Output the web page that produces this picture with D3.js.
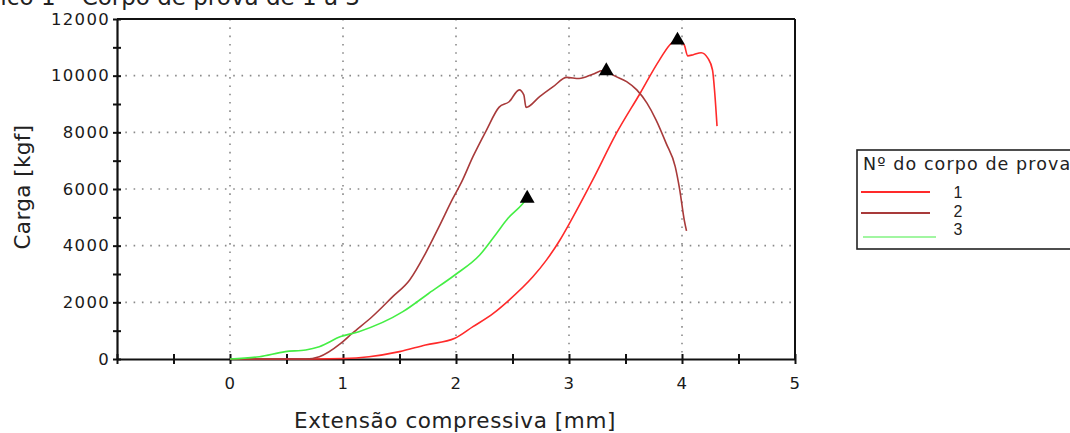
<!DOCTYPE html>
<html>
<head>
<meta charset="utf-8">
<script src="https://cdn.jsdelivr.net/npm/d3@7/dist/d3.min.js"></script>
<style>
body { margin: 0; background: #fff; }
svg { display: block; }
</style>
</head>
<body>
<svg id="chart" width="1070" height="433"></svg>
<script>
// corpo de prova 1
const s1x = [0, 0.5, 1.0, 1.23, 1.5, 1.73, 1.99, 2.15, 2.33, 2.47, 2.68, 2.80, 2.92, 3.02, 3.21, 3.42, 3.63, 3.80, 3.91, 3.96, 4.02, 4.05, 4.10, 4.17, 4.23, 4.27, 4.29, 4.31];
const s1y = [0, 0, 20, 80, 260, 495, 730, 1140, 1610, 2080, 2900, 3490, 4200, 4900, 6320, 7970, 9380, 10550, 11160, 11250, 11080, 10700, 10740, 10810, 10610, 10200, 9380, 8220];
// corpo de prova 2
const s2x = [0, 0.67, 0.79, 0.98, 1.08, 1.26, 1.44, 1.59, 1.73, 1.85, 1.97, 2.05, 2.15, 2.27, 2.38, 2.47, 2.56, 2.60, 2.62, 2.74, 2.86, 2.98, 3.09, 3.21, 3.30, 3.33, 3.39, 3.51, 3.60, 3.69, 3.77, 3.86, 3.94, 3.98, 4.02, 4.04];
const s2y = [0, 0, 80, 550, 900, 1500, 2200, 2790, 3730, 4670, 5650, 6250, 7140, 8080, 8880, 9080, 9500, 9320, 8880, 9260, 9610, 9940, 9900, 10050, 10180, 10170, 10020, 9790, 9500, 9030, 8440, 7610, 6790, 5970, 4900, 4520];
// corpo de prova 3
const s3x = [0, 0.26, 0.49, 0.67, 0.79, 0.98, 1.14, 1.53, 1.76, 1.99, 2.21, 2.36, 2.46, 2.58, 2.61];
const s3y = [0, 80, 260, 320, 435, 790, 965, 1670, 2320, 2965, 3670, 4440, 4965, 5435, 5580];

const seriesNames = ['1', '2', '3'];
const seriesColors = ['#ff2a2a', '#a83a3a', '#44ee44'];
const peakX = [3.96, 3.33, 2.63];
const peakY = [11250, 10170, 5670];

const xTicksMajor = [0, 1, 2, 3, 4, 5];
const yTicksMajor = [0, 2000, 4000, 6000, 8000, 10000, 12000];

const svg = d3.select('#chart');
const plotLeft = 117, plotRight = 795, plotTop = 19, plotBottom = 359;

const x = d3.scaleLinear().domain([-1, 5]).range([plotLeft, plotRight]);
const y = d3.scaleLinear().domain([0, 12000]).range([plotBottom, plotTop]);

// titulo (cortado no topo, como no original)
svg.append('text')
    .attr('x', -49)
    .attr('y', 5)
    .attr('font-family', 'DejaVu Sans')
    .attr('font-size', 23)
    .attr('fill', '#222')
    .text('Gráfico 1 – Corpo de prova de 1 a 3');

// grade pontilhada
svg.selectAll('line.hgrid')
    .data([2000, 4000, 6000, 8000, 10000])
    .enter()
    .append('line')
    .attr('class', 'hgrid')
    .attr('x1', plotLeft).attr('x2', plotRight)
    .attr('y1', d => y(d)).attr('y2', d => y(d))
    .attr('stroke', '#8a8a8a')
    .attr('stroke-width', 1.6)
    .attr('stroke-dasharray', '1.6,6.7');

svg.selectAll('line.vgrid')
    .data([0, 1, 2, 3, 4])
    .enter()
    .append('line')
    .attr('class', 'vgrid')
    .attr('x1', d => x(d)).attr('x2', d => x(d))
    .attr('y1', plotTop).attr('y2', plotBottom)
    .attr('stroke', '#8a8a8a')
    .attr('stroke-width', 1.6)
    .attr('stroke-dasharray', '1.6,6.7');

// moldura: topo e direita
svg.append('line')
    .attr('x1', plotLeft).attr('x2', plotRight).attr('y1', plotTop).attr('y2', plotTop)
    .attr('stroke', '#111').attr('stroke-width', 2);
svg.append('line')
    .attr('x1', plotRight).attr('x2', plotRight).attr('y1', plotTop).attr('y2', plotBottom)
    .attr('stroke', '#111').attr('stroke-width', 2);

// eixos
const yAxis = d3.axisLeft(y)
    .tickValues(d3.range(0, 12001, 1000))
    .tickSizeInner(4).tickSizeOuter(0)
    .tickFormat(d => yTicksMajor.includes(d) ? d : '');
const gy = svg.append('g').attr('transform', `translate(${plotLeft},0)`).call(yAxis);

const xAxis = d3.axisBottom(x)
    .tickValues(d3.range(-1, 5.01, 0.5))
    .tickSizeInner(5).tickSizeOuter(0)
    .tickFormat(d => xTicksMajor.includes(d) ? d : '');
const gx = svg.append('g').attr('transform', `translate(0,${plotBottom})`).call(xAxis);

[gx, gy].forEach(g => {
    g.select('.domain').attr('stroke', '#111').attr('stroke-width', 2.2);
    g.selectAll('.tick line').attr('stroke', '#111').attr('stroke-width', 2);
    g.selectAll('.tick text')
        .attr('font-family', 'DejaVu Sans')
        .attr('font-size', 16.5)
        .attr('letter-spacing', 1.3)
        .attr('fill', '#1a1a1a');
});
// marcas cruzando o eixo
gy.selectAll('.tick line').attr('x1', 4);
gy.selectAll('.tick text').attr('x', -7);
gx.selectAll('.tick line').attr('y1', -5);
gx.selectAll('.tick text').attr('y', 18);

// titulos dos eixos
svg.append('text')
    .attr('x', 455).attr('y', 428)
    .attr('text-anchor', 'middle')
    .attr('font-family', 'DejaVu Sans')
    .attr('font-size', 21.5)
    .attr('letter-spacing', 0.6)
    .attr('fill', '#222')
    .text('Extensão compressiva [mm]');

svg.append('text')
    .attr('transform', 'translate(30,187) rotate(-90)')
    .attr('text-anchor', 'middle')
    .attr('font-family', 'DejaVu Sans')
    .attr('font-size', 21.5)
    .attr('letter-spacing', 0.4)
    .attr('fill', '#222')
    .text('Carga [kgf]');

// curvas
const allSeries = [
    s1x.map((v, i) => [v, s1y[i]]),
    s2x.map((v, i) => [v, s2y[i]]),
    s3x.map((v, i) => [v, s3y[i]])
];
const line = d3.line()
    .x(d => x(d[0]))
    .y(d => y(d[1]))
    .curve(d3.curveMonotoneX);

svg.selectAll('path.serie')
    .data(allSeries)
    .enter()
    .append('path')
    .attr('class', 'serie')
    .attr('d', line)
    .attr('fill', 'none')
    .attr('stroke', (d, i) => seriesColors[i])
    .attr('stroke-width', 1.6);

// picos
svg.selectAll('path.peak')
    .data(peakX.map((v, i) => [v, peakY[i]]))
    .enter()
    .append('path')
    .attr('class', 'peak')
    .attr('d', d3.symbol().type(d3.symbolTriangle).size(95))
    .attr('transform', d => `translate(${x(d[0])},${y(d[1])})`)
    .attr('fill', '#000');

// legenda
const lg = svg.append('g');
lg.append('rect')
    .attr('x', 857).attr('y', 150)
    .attr('width', 240).attr('height', 99)
    .attr('fill', '#fff')
    .attr('stroke', '#222')
    .attr('stroke-width', 1.6);
lg.append('text')
    .attr('x', 863).attr('y', 170)
    .attr('font-family', 'DejaVu Sans')
    .attr('font-size', 17.5)
    .attr('letter-spacing', 1.1)
    .attr('fill', '#222')
    .text('Nº do corpo de prova');

const legendY = [192, 213, 237];
const legendTextY = [192, 211, 229];
const legendX = [[861, 930], [861, 930], [863, 936]];
seriesNames.forEach((name, i) => {
    lg.append('line')
        .attr('x1', legendX[i][0]).attr('x2', legendX[i][1])
        .attr('y1', legendY[i]).attr('y2', legendY[i])
        .attr('stroke', seriesColors[i])
        .attr('stroke-width', i === 2 ? 1.2 : 1.8);
    lg.append('text')
        .attr('x', 958).attr('y', legendTextY[i])
        .attr('dy', '0.35em')
        .attr('text-anchor', 'middle')
        .attr('font-family', 'Liberation Sans')
        .attr('font-size', 16)
        .attr('fill', '#222')
        .text(name);
});
</script>
</body>
</html>
